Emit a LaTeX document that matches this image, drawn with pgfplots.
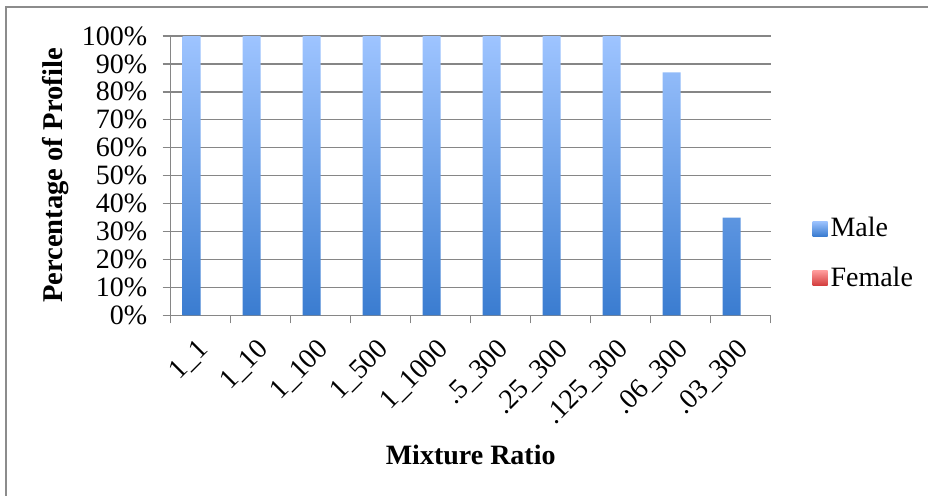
\documentclass[border=0pt]{standalone}
\usepackage{pgfplots}
\pgfplotsset{compat=1.18}
\usepackage{fontspec}
\setmainfont{Liberation Serif}
\definecolor{maleTop}{RGB}{158,196,255}
\definecolor{maleBot}{RGB}{58,124,208}
\definecolor{femTop}{RGB}{255,156,156}
\definecolor{femBot}{RGB}{210,60,60}
\definecolor{gridc}{RGB}{134,134,134}
\definecolor{framec}{RGB}{140,140,140}
\begin{document}
\begin{tikzpicture}
\useasboundingbox (-85.35pt,157.65pt) rectangle (378.65pt,-89.85pt);
\draw[framec, line width=1pt] (-82.5pt,-95pt) -- (-82.5pt,154.15pt) -- (385pt,154.15pt);
\begin{axis}[
  scale only axis,
  width=300pt, height=139.65pt,
  xmin=-0.5, xmax=9.5, ymin=0, ymax=100,
  axis x line=bottom, axis y line=left,
  axis line style={gridc, line width=0.7pt, -},
  ybar=0pt, bar width=9pt,
  xtick={0,...,9},
  xticklabels={1\_1,1\_10,1\_100,1\_500,1\_1000,.5\_300,.25\_300,.125\_300,.06\_300,.03\_300},
  major x tick style={draw=none},
  minor xtick={-0.5,0.5,...,9.5},
  minor x tick style={gridc, line width=0.7pt},
  minor tick length=4pt,
  ytick={0,10,...,100},
  yticklabels={0\%,10\%,20\%,30\%,40\%,50\%,60\%,70\%,80\%,90\%,100\%},
  major tick length=4pt,
  tick align=outside,
  y tick style={gridc, line width=0.7pt},
  ymajorgrids,
  grid style={gridc, line width=0.7pt},
  tick label style={font=\fontsize{14}{16}\selectfont},
  xticklabel style={rotate=45, anchor=north east, inner sep=1pt, yshift=-2.4pt, xshift=-5.3pt},
  yticklabel style={inner sep=1pt, xshift=-6.5pt},
  every axis y label/.style={at={(axis description cs:0,0.5)}, xshift=-57.4pt, rotate=90, anchor=center},
  every axis x label/.style={at={(axis description cs:0.5,0)}, yshift=-69.85pt, anchor=center},
  ylabel={\fontsize{14.3}{16}\selectfont\bfseries Percentage of Profile},
  xlabel={\fontsize{14}{16}\selectfont\bfseries Mixture Ratio},
  legend style={at={(1.069,0.222)}, anchor=west, draw=none, fill=none,
    font=\fontsize{14}{16}\selectfont, row sep=10.5pt, inner sep=0pt,
    nodes={inner sep=1.5pt}},
  legend cell align=left,
]
\addplot[draw=none, top color=maleTop, bottom color=maleBot,
  legend image code/.code={\shade[top color=maleTop,bottom color=maleBot] (0pt,-3.75pt) rectangle (7.5pt,3.75pt);}]
  coordinates {(0,100) (1,100) (2,100) (3,100) (4,100) (5,100) (6,100) (7,100) (8,87) (9,35)};
\addlegendentry{Male}
\addplot[draw=none, fill=none,
  legend image code/.code={\shade[top color=femTop,bottom color=femBot] (0pt,-3.75pt) rectangle (7.5pt,3.75pt);}]
  coordinates {(0,0) (1,0) (2,0) (3,0) (4,0) (5,0) (6,0) (7,0) (8,0) (9,0)};
\addlegendentry{Female}
\end{axis}
\end{tikzpicture}
\end{document}
